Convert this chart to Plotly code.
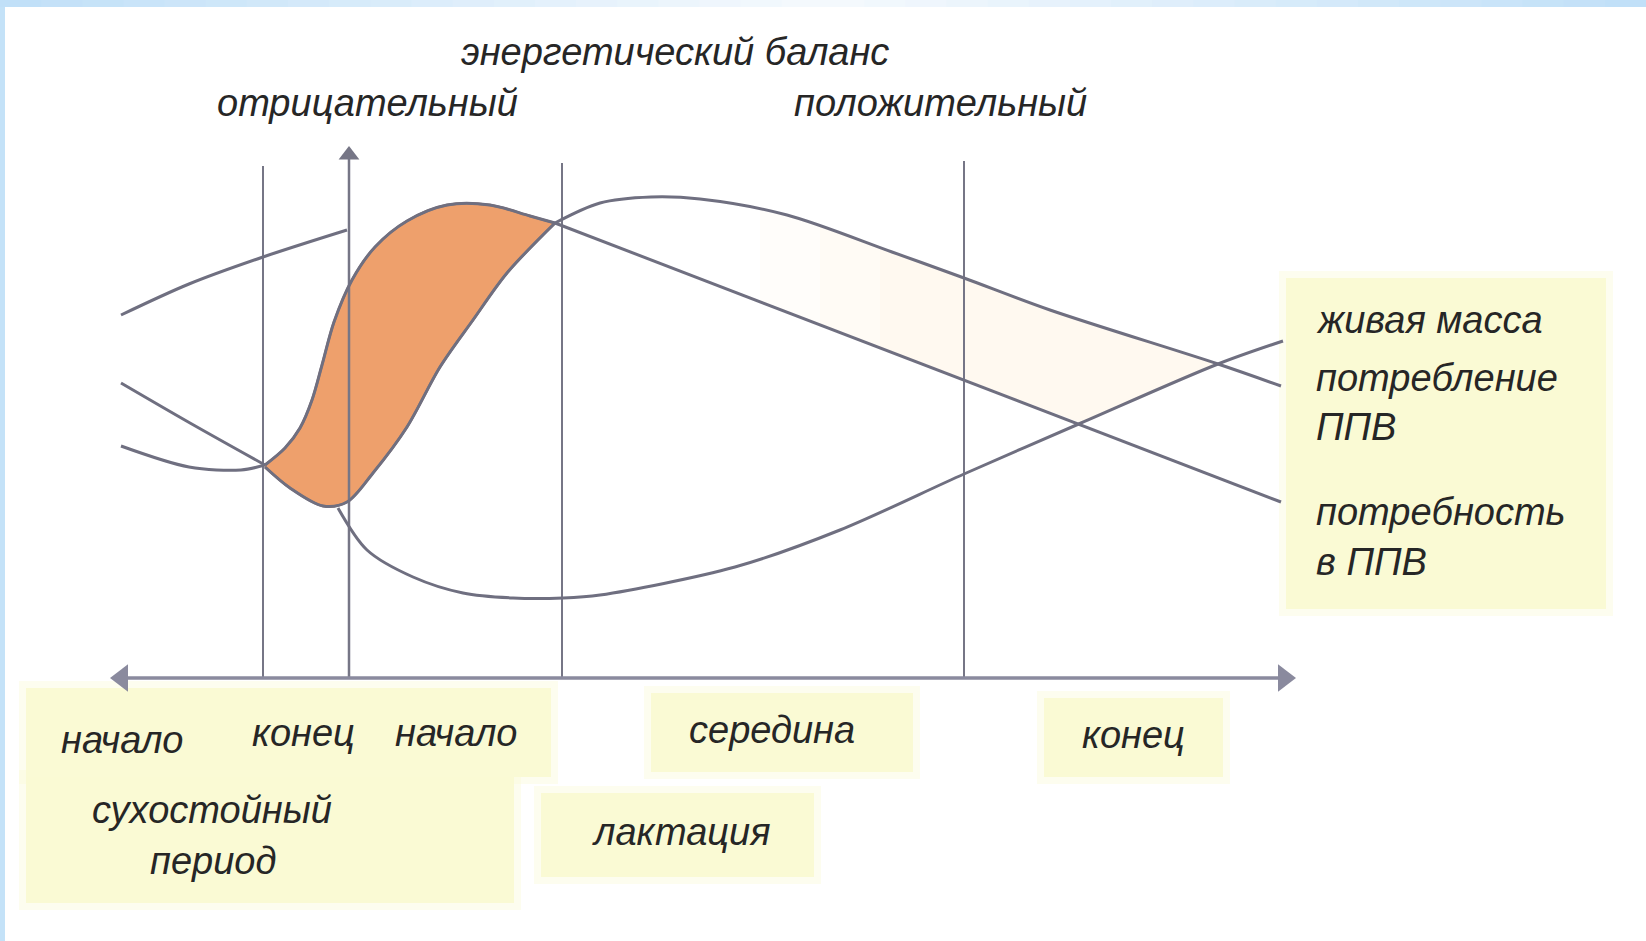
import plotly.graph_objects as go

# schematic units: x left->right, y top->down (same scale as the picture)
live_pre_x = [121, 189, 263, 347]
live_pre_y = [315, 284, 257, 230]
live_post_x = [338, 367, 413, 463, 513, 563, 600, 735, 840, 964, 1081, 1218, 1283]
live_post_y = [508, 550, 577, 593, 598, 598, 595, 567, 530, 474, 423, 364, 341]

need_pre_x = [121, 190, 265]
need_pre_y = [383, 423, 465]
need_rise_x = [265, 285, 300, 312, 322, 334, 352, 375, 407, 447, 490, 530, 555]
need_rise_y = [465, 448, 428, 400, 365, 322, 280, 247, 221, 205, 205, 216, 223]
need_fall_x = [555, 1281]
need_fall_y = [223, 502]

intake_pre_x = [121, 189, 241, 265]
intake_pre_y = [446, 467, 470, 465]
intake_rise_x = [265, 290, 323, 347, 373, 407, 440, 473, 507, 555]
intake_rise_y = [467, 488, 506, 502, 473, 427, 367, 320, 273, 223]
intake_late_x = [555, 600, 651, 700, 787, 892, 964, 1050, 1218, 1281]
intake_late_y = [223, 203, 197, 199, 215, 252, 278, 310, 364, 386]

stage_lines_x = [263, 562, 964]
stage_lines_top = [166, 163, 161]
axis_base = 678

LINE = "#6f6f80"
FONT = dict(family="Liberation Sans, Arial, sans-serif", size=38, color="#262626", style="italic")

fig = go.Figure()

# negative energy balance region
fig.add_trace(go.Scatter(
    x=need_rise_x + intake_rise_x[::-1], y=need_rise_y + intake_rise_y[::-1],
    mode="lines", fill="toself", fillcolor="#eea06c",
    line=dict(color="#9a7462", width=2.5, shape="spline", smoothing=0.9),
    hoverinfo="skip", showlegend=False))

# faint positive balance region, fading in from the left
req = lambda x: need_fall_y[0] + (x - need_fall_x[0]) * (need_fall_y[1] - need_fall_y[0]) / (need_fall_x[1] - need_fall_x[0])
for start in (760, 820, 880):
    top_x = [start] + [x for x in intake_late_x if start < x <= 1218]
    top_y = [None] + [y for x, y in zip(intake_late_x, intake_late_y) if start < x <= 1218]
    for i in range(len(intake_late_x) - 1):
        if intake_late_x[i] <= start <= intake_late_x[i + 1]:
            f = (start - intake_late_x[i]) / (intake_late_x[i + 1] - intake_late_x[i])
            top_y[0] = intake_late_y[i] + f * (intake_late_y[i + 1] - intake_late_y[i])
    bot_x = [1218, 1081, start]
    bot_y = [364, 423, req(start)]
    fig.add_trace(go.Scatter(
        x=top_x + bot_x, y=top_y + bot_y,
        mode="lines", fill="toself", fillcolor="rgba(250,228,205,0.09)",
        line=dict(width=0), hoverinfo="skip", showlegend=False))

# stage lines
for sx, top in zip(stage_lines_x, stage_lines_top):
    fig.add_trace(go.Scatter(x=[sx, sx], y=[top, axis_base], mode="lines",
                             line=dict(color="#767686", width=2), hoverinfo="skip", showlegend=False))

# vertical axis with arrow
fig.add_trace(go.Scatter(x=[349, 349], y=[axis_base, 155], mode="lines",
                         line=dict(color="#767686", width=2.5), hoverinfo="skip", showlegend=False))
fig.add_trace(go.Scatter(x=[349], y=[155], mode="markers",
                         marker=dict(symbol="triangle-up", size=18, color="#767686"),
                         hoverinfo="skip", showlegend=False))

# horizontal axis with arrows both ends
fig.add_trace(go.Scatter(x=[118, 1288], y=[axis_base, axis_base], mode="lines",
                         line=dict(color="#8a8a9e", width=3.5), hoverinfo="skip", showlegend=False))
fig.add_trace(go.Scatter(x=[122, 1284], y=[axis_base, axis_base], mode="markers",
                         marker=dict(symbol=["triangle-left", "triangle-right"], size=24, color="#8a8a9e"),
                         hoverinfo="skip", showlegend=False))

# curves
curves = [
    (live_pre_x, live_pre_y), (live_post_x, live_post_y),
    (need_pre_x, need_pre_y), (need_rise_x, need_rise_y), (need_fall_x, need_fall_y),
    (intake_pre_x, intake_pre_y), (intake_rise_x, intake_rise_y), (intake_late_x, intake_late_y),
]
for cx, cy in curves:
    fig.add_trace(go.Scatter(x=cx, y=cy, mode="lines",
                             line=dict(color=LINE, width=3, shape="spline", smoothing=0.9),
                             hoverinfo="skip", showlegend=False))

# pale yellow label boxes
boxes = [
    (26, 551, 688, 777), (26, 514, 777, 903), (651, 913, 693, 772),
    (1044, 1223, 698, 777), (541, 814, 793, 877), (1286, 1606, 278, 609),
]
shapes = []
for x0, x1, y0, y1 in boxes:
    shapes.append(dict(type="rect", xref="x", yref="y", x0=x0 - 7, x1=x1 + 7, y0=y0 - 7, y1=y1 + 7,
                       fillcolor="rgba(251,251,214,0.4)", line=dict(width=0), layer="below"))
    shapes.append(dict(type="rect", xref="x", yref="y", x0=x0, x1=x1, y0=y0, y1=y1,
                       fillcolor="#fafad4", line=dict(width=0), layer="below"))

# frame: left strip and top gradient strip
shapes.append(dict(type="rect", xref="x", yref="y", x0=0, x1=5, y0=0, y1=941,
                   fillcolor="#c4e2f8", line=dict(width=0), layer="above"))
n = 40
for i in range(n):
    t = abs((i + 0.5) / n - 0.5) * 2
    r = int(246 - 54 * t); g = int(250 - 26 * t); b = int(254 - 6 * t)
    shapes.append(dict(type="rect", xref="x", yref="y", x0=i * 1646 / n, x1=(i + 1) * 1646 / n + 1,
                       y0=0, y1=7, fillcolor=f"rgb({r},{g},{b})", line=dict(width=0), layer="above"))

labels = [
    ("энергетический баланс", 675, 52), ("отрицательный", 367, 103), ("положительный", 940, 103),
    ("начало", 122, 740), ("конец", 303, 733), ("начало", 456, 733),
    ("середина", 772, 730), ("конец", 1133, 735),
    ("сухостойный", 212, 810), ("период", 213, 861), ("лактация", 681, 832),
]
annotations = [dict(text=t, x=x, y=y, xref="x", yref="y", showarrow=False, font=FONT,
                    xanchor="center", yanchor="middle") for t, x, y in labels]
side_labels = [("живая масса", 320), ("потребление", 378), ("ППВ", 427),
               ("потребность", 512), ("в ППВ", 562)]
annotations += [dict(text=t, x=1314, y=y, xref="x", yref="y", showarrow=False, font=FONT,
                     xanchor="left", yanchor="middle") for t, y in side_labels]

fig.update_layout(
    width=1646, height=941, margin=dict(l=0, r=0, t=0, b=0),
    paper_bgcolor="white", plot_bgcolor="white",
    xaxis=dict(range=[0, 1646], visible=False, fixedrange=True, domain=[0, 1]),
    yaxis=dict(range=[941, 0], visible=False, fixedrange=True, domain=[0, 1]),
    shapes=shapes, annotations=annotations,
)

fig.write_html("out.html", config={"displayModeBar": False},
               post_script="document.body.style.margin='0';")
